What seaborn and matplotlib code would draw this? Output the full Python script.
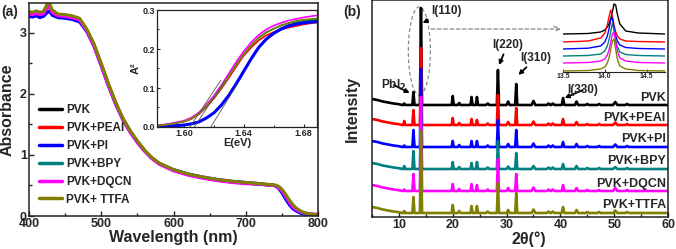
import numpy as np
import matplotlib
matplotlib.use("Agg")
import matplotlib.pyplot as plt
from matplotlib.patches import Ellipse
from matplotlib.ticker import MultipleLocator
import seaborn as sns

# ---------------- data ----------------
samples = ["PVK", "PVK+PEAI", "PVK+PI", "PVK+BPY", "PVK+DQCN", "PVK+ TTFA"]
xrd_labels = ["PVK", "PVK+PEAI", "PVK+PI", "PVK+BPY", "PVK+DQCN", "PVK+TTFA"]
colors = ["#000000", "#ff0000", "#0000ff", "#008080", "#ff00ff", "#808000"]

# (a) absorbance spectra
wavelength = [400, 405, 410, 415, 420, 425, 428, 432, 440, 450, 460, 470, 480, 490, 500,
              510, 520, 530, 540, 550, 560, 570, 580, 600, 620, 640, 660, 680, 700, 720,
              740, 745, 750, 755, 760, 765, 770, 775, 780, 790, 800]
abs_pvk = [3.32, 3.31, 3.33, 3.31, 3.32, 3.43, 3.46, 3.34, 3.29, 3.28, 3.26, 3.22, 3.05, 2.80, 2.48,
           2.15, 1.85, 1.59, 1.39, 1.22, 1.07, 0.95, 0.86, 0.75, 0.68, 0.63, 0.59, 0.56, 0.54, 0.52,
           0.50, 0.47, 0.41, 0.32, 0.23, 0.15, 0.10, 0.07, 0.05, 0.02, 0.01]
abs_peai = [3.31, 3.30, 3.32, 3.30, 3.31, 3.41, 3.44, 3.33, 3.28, 3.27, 3.25, 3.21, 3.04, 2.80, 2.48,
            2.15, 1.85, 1.59, 1.39, 1.22, 1.07, 0.95, 0.86, 0.75, 0.68, 0.63, 0.59, 0.56, 0.54, 0.52,
            0.50, 0.47, 0.42, 0.33, 0.24, 0.16, 0.11, 0.07, 0.05, 0.03, 0.02]
abs_pi = [3.27, 3.26, 3.28, 3.25, 3.27, 3.33, 3.36, 3.29, 3.25, 3.24, 3.22, 3.18, 3.02, 2.78, 2.46,
          2.13, 1.83, 1.58, 1.38, 1.21, 1.07, 0.95, 0.86, 0.76, 0.69, 0.64, 0.60, 0.57, 0.55, 0.53,
          0.50, 0.46, 0.38, 0.28, 0.19, 0.12, 0.08, 0.05, 0.03, 0.02, 0.01]
abs_bpy = [3.32, 3.31, 3.33, 3.31, 3.32, 3.43, 3.46, 3.34, 3.29, 3.28, 3.26, 3.22, 3.05, 2.80, 2.48,
           2.15, 1.85, 1.59, 1.39, 1.22, 1.07, 0.95, 0.86, 0.75, 0.68, 0.63, 0.59, 0.56, 0.54, 0.52,
           0.50, 0.47, 0.42, 0.33, 0.24, 0.16, 0.11, 0.07, 0.05, 0.03, 0.02]
abs_dqcn = [3.31, 3.30, 3.32, 3.30, 3.31, 3.42, 3.44, 3.33, 3.28, 3.27, 3.25, 3.21, 3.03, 2.78, 2.46,
            2.13, 1.83, 1.57, 1.37, 1.20, 1.06, 0.94, 0.85, 0.74, 0.67, 0.62, 0.58, 0.55, 0.53, 0.52,
            0.50, 0.47, 0.41, 0.32, 0.23, 0.15, 0.10, 0.07, 0.05, 0.03, 0.03]
abs_ttfa = [3.35, 3.34, 3.36, 3.34, 3.35, 3.47, 3.50, 3.38, 3.31, 3.30, 3.28, 3.24, 3.06, 2.82, 2.50,
            2.17, 1.86, 1.60, 1.40, 1.23, 1.08, 0.96, 0.87, 0.76, 0.69, 0.64, 0.60, 0.57, 0.55, 0.53,
            0.51, 0.49, 0.44, 0.36, 0.27, 0.19, 0.13, 0.09, 0.06, 0.03, 0.02]
absorbance = [abs_pvk, abs_peai, abs_pi, abs_bpy, abs_dqcn, abs_ttfa]

# (a) inset: A^2 vs photon energy
energy = [1.582, 1.590, 1.600, 1.605, 1.610, 1.615, 1.620, 1.625, 1.630, 1.635, 1.640,
          1.645, 1.650, 1.655, 1.660, 1.665, 1.670, 1.675, 1.680, 1.685, 1.689]
a2_pvk = [0.0, 0.002, 0.005, 0.008, 0.013, 0.023, 0.036, 0.056, 0.081, 0.111, 0.143,
          0.175, 0.204, 0.226, 0.242, 0.253, 0.261, 0.266, 0.270, 0.273, 0.274]
a2_peai = [0.003, 0.007, 0.014, 0.021, 0.033, 0.051, 0.073, 0.098, 0.126, 0.155, 0.183,
           0.204, 0.222, 0.235, 0.243, 0.250, 0.255, 0.259, 0.263, 0.266, 0.268]
a2_pi = [0.0, 0.002, 0.005, 0.008, 0.013, 0.023, 0.036, 0.056, 0.081, 0.111, 0.143,
         0.175, 0.204, 0.225, 0.240, 0.251, 0.259, 0.264, 0.267, 0.269, 0.270]
a2_bpy = [0.003, 0.007, 0.014, 0.021, 0.034, 0.053, 0.075, 0.101, 0.130, 0.160, 0.187,
          0.210, 0.229, 0.243, 0.252, 0.260, 0.266, 0.270, 0.273, 0.275, 0.276]
a2_dqcn = [0.004, 0.008, 0.016, 0.024, 0.037, 0.057, 0.080, 0.107, 0.137, 0.167, 0.194,
           0.217, 0.236, 0.250, 0.260, 0.267, 0.273, 0.277, 0.281, 0.284, 0.286]
a2_ttfa = [0.003, 0.007, 0.014, 0.021, 0.034, 0.053, 0.075, 0.101, 0.130, 0.159, 0.186,
           0.209, 0.228, 0.242, 0.252, 0.261, 0.267, 0.272, 0.275, 0.277, 0.278]
a2 = [a2_pvk, a2_peai, a2_pi, a2_bpy, a2_dqcn, a2_ttfa]
# linear extrapolations to the energy axis
tangent_e0 = [1.604, 1.607, 1.618]
tangent_slope = [5.8, 5.8, 6.2]
tangent_top = [0.12, 0.12, 0.11]

# (b) XRD patterns
xrd_offset = [112, 92, 70, 48, 26, 4]
bg_2theta = [5, 6, 7, 8, 9, 10, 10.6]
bg_rise = [6, 5, 3.5, 2.5, 1.5, 0.8, 0]
peak_2theta = [11.0, 12.7, 14.1, 20.0, 21.2, 23.5, 24.5, 26.5, 28.4, 30.3, 31.8, 35.0,
               37.8, 38.6, 40.5, 43.0, 45.0, 47.2, 50.2, 52.4]
peak_halfwidth = [0.2, 0.2, 0.2, 0.2, 0.25, 0.2, 0.2, 0.3, 0.2, 0.3, 0.2, 0.35,
                  0.3, 0.3, 0.25, 0.3, 0.3, 0.3, 0.4, 0.3]
h_pvk = [1.5, 13, 97, 9, 2, 8, 8, 1.5, 35, 3.5, 21, 4, 1.5, 1.5, 7, 3.5, 1, 1, 3, 1]
h_peai = [4, 15, 77, 7, 2, 6, 5, 1.5, 30, 3, 17, 3.5, 1.5, 1.5, 6, 3, 1, 1, 2.5, 1]
h_pi = [1.5, 17, 78, 6, 2, 6, 6, 1.5, 27, 3, 17, 3.5, 1.5, 1.5, 5, 3, 1, 1, 2.5, 1]
h_bpy = [3, 18, 65, 7, 2, 6, 7, 1.5, 28, 2.5, 16, 3, 1.5, 1.5, 5, 3, 1, 1, 2, 1]
h_dqcn = [1.5, 17, 94, 7, 2, 7, 6, 1.5, 32, 3, 17, 3.5, 1.5, 1.5, 6, 3, 1, 1, 3, 1]
h_ttfa = [2, 16, 82, 8, 2, 7, 7, 1.5, 30, 3, 20, 3.5, 1.5, 1.5, 6, 3, 1, 1, 2.5, 1]
peak_heights = [h_pvk, h_peai, h_pi, h_bpy, h_dqcn, h_ttfa]

# (b) inset: zoom on the (110) reflection
zoom_2theta = [13.50, 13.80, 13.95, 14.00, 14.03, 14.05, 14.07, 14.09, 14.11, 14.13,
               14.15, 14.18, 14.25, 14.40, 14.72]
z_pvk = [0, 0.5, 2, 4, 7, 10, 15, 22, 30, 29, 20, 10, 3, 1, 0]
z_peai = [0, 1, 4, 9, 17, 25, 32, 26, 17, 10, 6, 3, 1, 0.5, 0]
z_pi = [0, 0.8, 3, 7, 13, 20, 29, 31, 22, 13, 8, 4, 1.5, 0.5, 0]
z_bpy = [0, 0.5, 2, 5, 10, 16, 24, 33, 26, 16, 9, 4, 1.5, 0.5, 0]
z_dqcn = [0, 0.5, 2, 4, 8, 13, 20, 29, 31, 21, 12, 5, 2, 0.5, 0]
z_ttfa = [0, 0.5, 2, 4, 8, 13, 21, 30, 32, 22, 12, 5, 2, 0.5, 0]
zoom_heights = [z_pvk, z_peai, z_pi, z_bpy, z_dqcn, z_ttfa]
zoom_offset = [38, 30, 23, 16, 9, 1]

# ---------------- style ----------------
sns.set_style("ticks")
plt.rcParams['font.family'] = ['Liberation Sans', 'DejaVu Sans']
plt.rcParams['font.weight'] = 'bold'
plt.rcParams['axes.labelweight'] = 'bold'
plt.rcParams['axes.linewidth'] = 1.1
plt.rcParams['axes.edgecolor'] = '#222222'

W, H = 676, 249
fig = plt.figure(figsize=(W / 100, H / 100), dpi=100)


def px_axes(left, top, right, bottom):
    return fig.add_axes([left / W, 1 - bottom / H, (right - left) / W, (bottom - top) / H])


# ---------------- panel (a) ----------------
ax_a = px_axes(29, 3, 318, 216)
for name, col, vals in zip(samples, colors, absorbance):
    sns.lineplot(x=wavelength, y=vals, color=col, linewidth=2.2, label=name,
                 estimator=None, ax=ax_a)
ax_a.set_xlim(400, 800)
ax_a.set_ylim(0, 3.49)
ax_a.xaxis.set_major_locator(MultipleLocator(100))
ax_a.xaxis.set_minor_locator(MultipleLocator(50))
ax_a.yaxis.set_major_locator(MultipleLocator(1))
ax_a.yaxis.set_minor_locator(MultipleLocator(0.5))
ax_a.tick_params(which='both', direction='in', labelsize=9, pad=1.5)
ax_a.tick_params(which='major', length=3.5, width=1)
ax_a.tick_params(which='minor', length=2, width=1)
ax_a.set_xlabel("Wavelength (nm)", fontsize=11.5)
ax_a.set_ylabel("Absorbance", fontsize=11.5)
ax_a.xaxis.set_label_coords(0.5, -0.065)
ax_a.yaxis.set_label_coords(-0.05, 0.5)
leg = ax_a.legend(loc='lower left', bbox_to_anchor=(0.005, 0.01), frameon=False,
                  fontsize=8.5, handlelength=2.0, handletextpad=0.3, labelspacing=0.5,
                  borderaxespad=0.3)
for line in leg.get_lines():
    line.set_linewidth(2.5)
fig.text(1 / W, 1 - 12 / H, "(a)", fontsize=10, fontweight='bold', va='center')

# inset (a)
ax_ai = px_axes(157, 10, 317, 127)
for col, vals in zip(colors, a2):
    lw = 2.2 if col == "#0000ff" else 1.2
    sns.lineplot(x=energy, y=vals, color=col, linewidth=lw, estimator=None, ax=ax_ai)
for e0, k, top in zip(tangent_e0, tangent_slope, tangent_top):
    ax_ai.plot([e0, e0 + top / k], [0, top], color='#555555', linewidth=0.6)
ax_ai.set_xlim(1.582, 1.689)
ax_ai.set_ylim(0, 0.3)
ax_ai.xaxis.set_major_locator(MultipleLocator(0.04))
ax_ai.xaxis.set_minor_locator(MultipleLocator(0.02))
ax_ai.yaxis.set_major_locator(MultipleLocator(0.1))
ax_ai.yaxis.set_minor_locator(MultipleLocator(0.05))
ax_ai.xaxis.set_major_formatter(matplotlib.ticker.FormatStrFormatter('%.2f'))
ax_ai.yaxis.set_major_formatter(matplotlib.ticker.FormatStrFormatter('%.1f'))
ax_ai.tick_params(which='both', direction='in', labelsize=6.5, pad=1.5, width=0.8)
ax_ai.tick_params(which='major', length=2.5)
ax_ai.tick_params(which='minor', length=1.5)
for s in ax_ai.spines.values():
    s.set_linewidth(0.9)
ax_ai.set_xlabel("E(eV)", fontsize=8, labelpad=0)
ax_ai.set_ylabel("A²", fontsize=8, labelpad=1)

# ---------------- panel (b) ----------------
ax_b = px_axes(372, 0, 668, 217)
for col, off, heights in zip(colors, xrd_offset, peak_heights):
    xs = list(bg_2theta)
    ys = [off + r for r in bg_rise]
    for p, w, h in zip(peak_2theta, peak_halfwidth, heights):
        xs += [p - w, p, p + w]
        ys += [off, off + h, off]
    xs.append(60)
    ys.append(off)
    sns.lineplot(x=xs, y=ys, color=col, linewidth=1.9, estimator=None, ax=ax_b)
for lab, off in zip(xrd_labels, xrd_offset):
    ax_b.text(59.6, off + 7.5, lab, ha='right', va='center', fontsize=9, fontweight='bold')
ax_b.set_xlim(5, 60)
ax_b.set_ylim(0, 217)
ax_b.set_yticks([])
ax_b.xaxis.set_major_locator(MultipleLocator(10))
ax_b.xaxis.set_minor_locator(MultipleLocator(5))
ax_b.tick_params(which='both', direction='in', labelsize=9, pad=1.5)
ax_b.tick_params(which='major', length=3.5, width=1)
ax_b.tick_params(which='minor', length=2, width=1)
ax_b.set_xlabel("2θ(°)", fontsize=11.5)
ax_b.set_ylabel("Intensity", fontsize=11.5)
ax_b.xaxis.set_label_coords(0.53, -0.065)
ax_b.yaxis.set_label_coords(-0.04, 0.5)
fig.text(343 / W, 1 - 12 / H, "(b)", fontsize=10, fontweight='bold', va='center')

arrow = dict(arrowstyle='-|>', color='k', lw=1.3, mutation_scale=6, shrinkA=0, shrinkB=0)
ax_b.annotate("I(110)", xy=(14.4, 194), xytext=(16.0, 206), fontsize=8.5,
              fontweight='bold', va='center', arrowprops=arrow)
ax_b.annotate("PbI$_\\mathbf{2}$", xy=(12.0, 124), xytext=(6.7, 132), fontsize=8.5,
              fontweight='bold', va='center', arrowprops=arrow)
ax_b.annotate("I(220)", xy=(28.6, 152), xytext=(27.3, 172), fontsize=8.5,
              fontweight='bold', va='center', arrowprops=arrow)
ax_b.annotate("I(310)", xy=(32.2, 142), xytext=(32.6, 159), fontsize=8.5,
              fontweight='bold', va='center', arrowprops=arrow)
ax_b.annotate("I(330)", xy=(40.8, 119), xytext=(41.3, 127), fontsize=8.5,
              fontweight='bold', va='center', arrowprops=arrow)
ax_b.add_patch(Ellipse((13.8, 166), 4.1, 88, fill=False, edgecolor='#888888',
                       linestyle=(0, (3, 2)), linewidth=0.9))
ax_b.annotate("", xy=(40.1, 188), xytext=(16.0, 188),
              arrowprops=dict(arrowstyle='->', color='#888888', lw=0.9,
                              linestyle=(0, (3, 2)), shrinkA=0, shrinkB=0))

# inset (b)
ax_bi = px_axes(563, 0, 665, 72)
for col, off, vals in zip(colors, zoom_offset, zoom_heights):
    sns.lineplot(x=zoom_2theta, y=[off + v for v in vals], color=col, linewidth=1.0,
                 estimator=None, ax=ax_bi)
ax_bi.set_xlim(13.5, 14.72)
ax_bi.set_ylim(0, 72)
ax_bi.set_yticks([])
for side in ['left', 'top', 'right']:
    ax_bi.spines[side].set_visible(False)
ax_bi.spines['bottom'].set_linewidth(0.8)
ax_bi.patch.set_alpha(0)
ax_bi.xaxis.set_major_locator(MultipleLocator(0.5))
ax_bi.xaxis.set_major_formatter(matplotlib.ticker.FormatStrFormatter('%.1f'))
ax_bi.tick_params(which='both', direction='in', labelsize=5, pad=1, length=2, width=0.7)

fig.savefig("out.png", dpi=100)
